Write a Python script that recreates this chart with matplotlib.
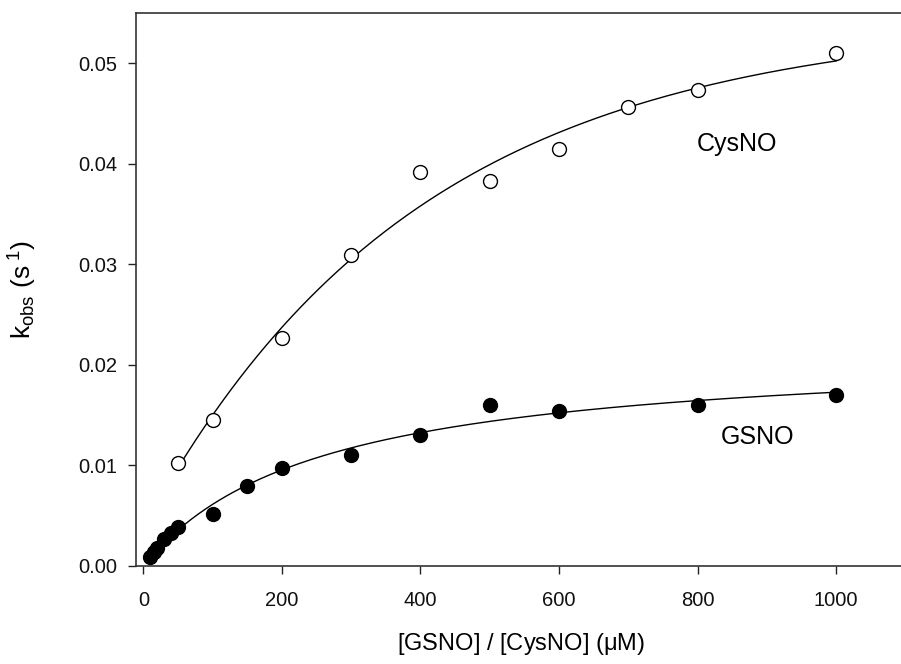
import numpy as np
import matplotlib
matplotlib.use("Agg")
import matplotlib.pyplot as plt

gsno_conc = [10, 15, 20, 30, 40, 50, 100, 150, 200, 300, 400, 500, 600, 800, 1000]
gsno_kobs = [0.0009, 0.0014, 0.0018, 0.0027, 0.0033, 0.0039, 0.0052, 0.0080,
             0.0097, 0.0110, 0.0130, 0.0160, 0.0154, 0.0160, 0.0170]

cysno_conc = [50, 100, 200, 300, 400, 500, 600, 700, 800, 1000]
cysno_kobs = [0.0102, 0.0145, 0.0227, 0.0309, 0.0392, 0.0383, 0.0415, 0.0457,
              0.0473, 0.0510]

x_ticks = [0, 200, 400, 600, 800, 1000]
y_ticks = [0.00, 0.01, 0.02, 0.03, 0.04, 0.05]


def fit_exp_rise(x, y):
    # y = y0 + a*(1 - exp(-b*x)), grid over b, linear least squares for y0, a
    x = np.asarray(x, float)
    y = np.asarray(y, float)
    best = None
    for b in np.linspace(0.0002, 0.02, 2000):
        A = np.column_stack([np.ones_like(x), 1 - np.exp(-b * x)])
        coef, *_ = np.linalg.lstsq(A, y, rcond=None)
        err = np.sum((A @ coef - y) ** 2)
        if best is None or err < best[0]:
            best = (err, coef[0], coef[1], b)
    _, y0, a, b = best
    return lambda t: y0 + a * (1 - np.exp(-b * t))


def fit_hyperbola(x, y):
    # y = vmax*x/(K + x), grid over K, linear least squares for vmax
    x = np.asarray(x, float)
    y = np.asarray(y, float)
    best = None
    for K in np.linspace(10, 3000, 3000):
        g = x / (K + x)
        v = np.sum(g * y) / np.sum(g * g)
        err = np.sum((v * g - y) ** 2)
        if best is None or err < best[0]:
            best = (err, v, K)
    _, v, K = best
    return lambda t: v * t / (K + t)


def main():
    plt.rcParams['font.family'] = ['Liberation Sans', 'DejaVu Sans']
    plt.rcParams['mathtext.fontset'] = 'custom'
    plt.rcParams['mathtext.rm'] = 'Liberation Sans'
    plt.rcParams['mathtext.it'] = 'Liberation Sans'

    fig = plt.figure(figsize=(9.01, 6.64), dpi=100)
    ax = fig.add_axes([0.1514, 0.1476, 0.8536, 0.8328])

    # fitted curves
    f_cys = fit_exp_rise(cysno_conc, cysno_kobs)
    f_gs = fit_hyperbola(gsno_conc, gsno_kobs)
    xc = np.linspace(min(cysno_conc), max(cysno_conc), 300)
    xg = np.linspace(min(gsno_conc), max(gsno_conc), 300)
    ax.plot(xc, f_cys(xc), color='black', lw=1.0, zorder=2)
    ax.plot(xg, f_gs(xg), color='black', lw=1.0, zorder=2)

    # data points
    ax.plot(cysno_conc, cysno_kobs, 'o', ms=10, mfc='white', mec='black',
            mew=1.0, zorder=3, clip_on=False)
    ax.plot(gsno_conc, gsno_kobs, 'o', ms=10, mfc='black', mec='black',
            zorder=3, clip_on=False)

    ax.text(857, 0.0420, 'CysNO', fontsize=18, ha='center', va='center')
    ax.text(886, 0.0128, 'GSNO', fontsize=18, ha='center', va='center')

    ax.set_xlim(-10, 1100)
    ax.set_ylim(0, 0.055)
    ax.set_xticks(x_ticks)
    ax.set_yticks(y_ticks)
    ax.set_yticklabels(['%.2f' % v for v in y_ticks])
    ax.tick_params(direction='out', length=6, width=1.0, labelsize=14.5,
                   pad=8, colors='#222222', labelcolor='#111111')
    ax.tick_params(axis='x', pad=12)

    for side in ['left', 'bottom', 'top']:
        ax.spines[side].set_linewidth(1.2)
        ax.spines[side].set_color('#333333')
    ax.spines['right'].set_visible(False)

    ax.set_xlabel('[GSNO] / [CysNO] ($\\mu$M)', fontsize=17, labelpad=15)
    ax.set_ylabel('k$_{\\mathrm{obs}}$ (s$^{\\ 1}$)', fontsize=19)
    ax.yaxis.set_label_coords(-0.127, 0.5)

    fig.savefig('out.png', dpi=100)


if __name__ == '__main__':
    main()
